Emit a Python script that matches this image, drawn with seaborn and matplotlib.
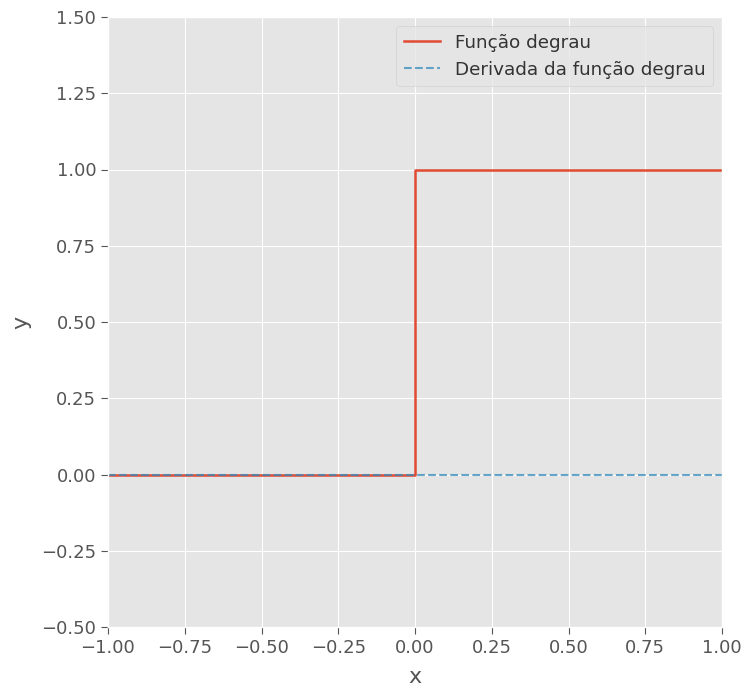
import matplotlib
matplotlib.use("Agg")
import matplotlib.pyplot as plt
import seaborn as sns
import pandas as pd
import numpy as np

plt.style.use("ggplot")
plt.rcParams["font.family"] = ["DejaVu Sans"]
plt.rcParams["font.size"] = 13

# Heaviside step and its derivative on [-1, 1]
step_x = [-1.0, 0.0, 0.0, 1.0]
step_y = [0.0, 0.0, 1.0, 1.0]
deriv_x = [-1.0, 1.0]
deriv_y = [0.0, 0.0]

step_df = pd.DataFrame({"x": step_x, "y": step_y})
deriv_df = pd.DataFrame({"x": deriv_x, "y": deriv_y})

fig = plt.figure(figsize=(7.45, 6.86), dpi=100)
ax = fig.add_axes([108 / 745, 1 - 627 / 686, 614 / 745, 610 / 686])

sns.lineplot(data=step_df, x="x", y="y", ax=ax, color="#E24A33", linewidth=1.8,
             sort=False, estimator=None, label="Função degrau")
sns.lineplot(data=deriv_df, x="x", y="y", ax=ax, color="#348ABD", linewidth=1.5,
             linestyle="--", alpha=0.75, sort=False, estimator=None,
             label="Derivada da função degrau")

ax.set_xlim(-1, 1)
ax.set_ylim(-0.5, 1.5)
ax.set_xticks(np.arange(-1, 1.01, 0.25))
ax.set_yticks(np.arange(-0.5, 1.51, 0.25))
ax.set_xlabel("x", fontsize=16, labelpad=7)
ax.set_ylabel("y", fontsize=16, labelpad=7)
ax.tick_params(labelsize=13, length=5)
ax.legend(loc="upper right", fontsize=13.2, labelcolor="#333333")

fig.savefig("out.png", dpi=100)
